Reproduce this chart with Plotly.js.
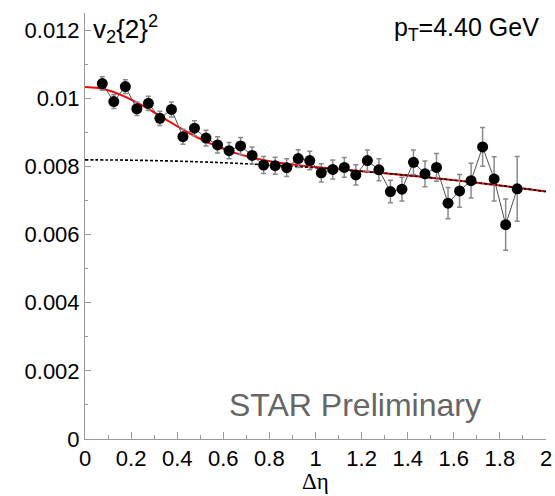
<!DOCTYPE html>
<html>
<head>
<meta charset="utf-8">
<script src="https://cdn.plot.ly/plotly-3.0.1.min.js"></script>
<style>
  html, body { margin: 0; padding: 0; background: #fff; }
  #chart { width: 555px; height: 496px; }
</style>
</head>
<body>
<div id="chart"></div>
<script>
// Data points: Δη bin centres, v2{2}^2 values and statistical errors
const deta = [0.075,0.125,0.175,0.225,0.275,0.325,0.375,0.425,0.475,0.525,
              0.575,0.625,0.675,0.725,0.775,0.825,0.875,0.925,0.975,1.025,
              1.075,1.125,1.175,1.225,1.275,1.325,1.375,1.425,1.475,1.525,
              1.575,1.625,1.675,1.725,1.775,1.825,1.875];
const v22 = [0.01043,0.00990,0.01034,0.00969,0.00985,0.00941,0.00967,0.00887,0.00912,0.00883,
             0.00863,0.00846,0.00860,0.00832,0.00804,0.00802,0.00796,0.00823,0.00817,0.00781,
             0.00791,0.00797,0.00775,0.00817,0.00790,0.00726,0.00733,0.00812,0.00778,0.00797,
             0.00692,0.00728,0.00758,0.00857,0.00763,0.00629,0.00734];
const v22err = [0.00020,0.00020,0.00020,0.00020,0.00021,0.00021,0.00022,0.00022,0.00022,0.00023,
                0.00024,0.00024,0.00025,0.00025,0.00025,0.00025,0.00026,0.00026,0.00027,0.00027,
                0.00028,0.00029,0.00030,0.00031,0.00032,0.00033,0.00035,0.00036,0.00038,0.00041,
                0.00046,0.00048,0.00051,0.00057,0.00065,0.00075,0.00095];

// Full fit curve (red)
const fitX = [0,0.05,0.1,0.15,0.2,0.25,0.3,0.35,0.4,0.45,0.5,0.55,0.6,0.65,0.7,0.75,0.8,0.85,0.9,0.95,
              1.0,1.1,1.2,1.3,1.4,1.5,1.6,1.7,1.8,1.9,2.0];
const fitY = [0.01033,0.010304,0.010232,0.010114,0.009960,0.009780,0.009582,0.009379,0.009177,0.008985,
              0.008808,0.008651,0.008513,0.008397,0.008300,0.008220,0.008154,0.008099,0.008053,0.008014,
              0.007979,0.007917,0.007859,0.007799,0.007735,0.007668,0.007596,0.007520,0.007438,0.007353,0.007262];

// Baseline component of the fit (black dotted)
const baseX = [0,0.1,0.2,0.3,0.4,0.5,0.6,0.7,0.8,0.9,1.0,1.1,1.2,1.3,1.4,1.5,1.6,1.7,1.8,1.9,2.0];
const baseY = [0.008190,0.008188,0.008181,0.008169,0.008153,0.008132,0.008106,0.008076,0.008042,0.008002,
               0.007958,0.007909,0.007856,0.007798,0.007735,0.007668,0.007596,0.007520,0.007438,0.007353,0.007260];

// Tick labels
const xTickVals = [0,0.2,0.4,0.6,0.8,1,1.2,1.4,1.6,1.8,2];
const xTickText = ["0","0.2","0.4","0.6","0.8","1","1.2","1.4","1.6","1.8","2"];
const yTickVals = [0,0.002,0.004,0.006,0.008,0.01,0.012];
const yTickText = ["0","0.002","0.004","0.006","0.008","0.01","0.012"];

const font = "Liberation Sans, Arial, Helvetica, sans-serif";

const traces = [
  {
    x: fitX, y: fitY, type: "scatter", mode: "lines",
    line: { color: "#ff0000", width: 2, shape: "spline" },
    hoverinfo: "skip", showlegend: false
  },
  {
    x: baseX, y: baseY, type: "scatter", mode: "lines",
    line: { color: "#000000", width: 1.6, dash: "3px,2px", shape: "spline" },
    hoverinfo: "skip", showlegend: false
  },
  {
    x: deta, y: v22, type: "scatter", mode: "lines+markers",
    line: { color: "#505050", width: 1 },
    marker: { color: "#000000", size: 11, symbol: "circle" },
    error_y: { type: "data", array: v22err, visible: true, color: "#8a8a8a", thickness: 1.5, width: 2.5 },
    showlegend: false
  }
];

const axisCommon = {
  showgrid: false, zeroline: false, showline: true,
  linecolor: "#9a9a9a", linewidth: 1,
  ticks: "inside", tickcolor: "#9a9a9a",
  tickfont: { family: font, size: 22, color: "#000" },
  mirror: false
};

const layout = {
  width: 555, height: 496,
  margin: { l: 85, r: 9, t: 13, b: 57 },
  paper_bgcolor: "#ffffff", plot_bgcolor: "#ffffff",
  showlegend: false,
  xaxis: Object.assign({}, axisCommon, {
    range: [0, 2],
    tickmode: "array", tickvals: xTickVals, ticktext: xTickText,
    ticklen: 7,
    minor: { ticks: "inside", ticklen: 4, dtick: 0.1, tick0: 0, tickcolor: "#9a9a9a", showgrid: false },
    title: { text: "" }
  }),
  yaxis: Object.assign({}, axisCommon, {
    range: [0, 0.0125],
    tickmode: "array", tickvals: yTickVals, ticktext: yTickText,
    ticklen: 6,
    minor: { ticks: "inside", ticklen: 3, dtick: 0.001, tick0: 0, tickcolor: "#9a9a9a", showgrid: false },
    title: { text: "" }
  }),
  annotations: [
    {
      xref: "paper", yref: "paper", x: 0.5, y: -0.1338, xanchor: "center", yanchor: "bottom",
      text: "Δη", showarrow: false,
      font: { family: "Liberation Serif, DejaVu Serif, serif", size: 23, color: "#000" }
    },
    {
      xref: "paper", yref: "paper", x: 0.012, y: 0.962, xanchor: "left", yanchor: "middle",
      text: "v<sub>2</sub>{2}<sup>2</sup>", showarrow: false,
      font: { family: font, size: 26, color: "#000" }
    },
    {
      xref: "paper", yref: "paper", x: 0.99, y: 0.962, xanchor: "right", yanchor: "middle",
      text: "p<sub>T</sub>=4.40 GeV", showarrow: false,
      font: { family: font, size: 25, color: "#000" }
    },
    {
      xref: "paper", yref: "paper", x: 0.863, y: 0.08, xanchor: "right", yanchor: "middle",
      text: "STAR Preliminary", showarrow: false,
      font: { family: font, size: 32, color: "#666666" }
    }
  ]
};

Plotly.newPlot("chart", traces, layout, { staticPlot: true, displayModeBar: false });
</script>
</body>
</html>
